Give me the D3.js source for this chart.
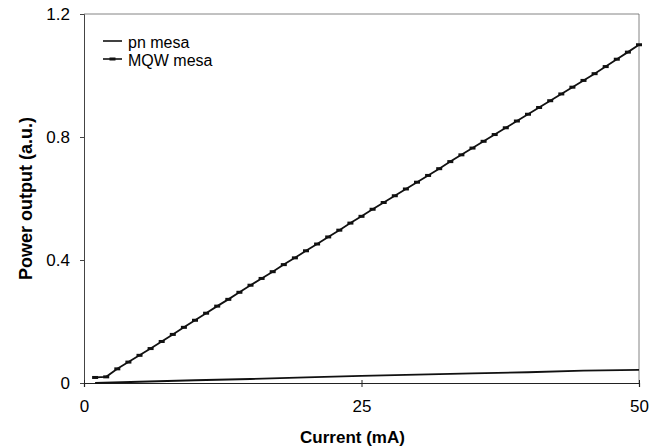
<!DOCTYPE html>
<html>
<head>
<meta charset="UTF-8">
<title>Power output vs current</title>
<script src="https://d3js.org/d3.v7.min.js"></script>
<style>
    body { margin: 0; padding: 0; background: #fff; }
    svg { display: block; font-family: "Liberation Sans", Arial, sans-serif; }
    .tick text { font-size: 17px; fill: #000; }
    .axis-title { font-weight: bold; fill: #000; }
    .legend text { font-size: 16px; fill: #000; }
</style>
</head>
<body>
<svg id="chart" width="665" height="447"></svg>
<script>
    // MQW mesa: one point per mA
    const mqwCurrent = d3.range(1, 51);
    const mqwPower = [
        0.018, 0.020, 0.046, 0.068, 0.090, 0.112, 0.135, 0.158, 0.181, 0.204,
        0.227, 0.250, 0.272, 0.295, 0.318, 0.340, 0.362, 0.385, 0.407, 0.430,
        0.452, 0.475, 0.497, 0.520, 0.542, 0.565, 0.587, 0.609, 0.631, 0.653,
        0.675, 0.697, 0.720, 0.742, 0.764, 0.786, 0.808, 0.830, 0.852, 0.874,
        0.896, 0.918, 0.940, 0.962, 0.984, 1.006, 1.029, 1.053, 1.076, 1.100
    ];
    // pn mesa
    const pnCurrent = [1, 5, 10, 15, 20, 25, 30, 35, 40, 45, 50];
    const pnPower = [0.000, 0.004, 0.009, 0.013, 0.018, 0.023, 0.027, 0.031, 0.035, 0.040, 0.043];

    const xTicks = [0, 25, 50];
    const yTicks = [0, 0.4, 0.8, 1.2];
    const seriesNames = ["pn mesa", "MQW mesa"];

    const margin = { top: 14, right: 26, bottom: 64, left: 84 };
    const width = 665 - margin.left - margin.right;
    const height = 447 - margin.top - margin.bottom;

    const svg = d3.select("#chart")
        .append("g")
        .attr("transform", `translate(${margin.left},${margin.top})`);

    const x = d3.scaleLinear().domain([0, 50]).range([0, width]);
    const y = d3.scaleLinear().domain([0, 1.2]).range([height, 0]);

    // frame (top and right)
    svg.append("path")
        .attr("d", `M0,0H${width}V${height}`)
        .attr("fill", "none")
        .attr("stroke", "#666")
        .attr("stroke-width", 0.8);

    const yAxis = svg.append("g")
        .call(d3.axisLeft(y).tickValues(yTicks).tickFormat(d => d === 0 ? "0" : d3.format(".1f")(d))
            .tickSize(4).tickPadding(10));
    yAxis.select(".domain").attr("stroke", "#444");
    yAxis.selectAll(".tick line").attr("stroke", "#444");

    const xAxis = svg.append("g")
        .attr("transform", `translate(0,${height})`)
        .call(d3.axisBottom(x).tickValues(xTicks).tickSize(4).tickPadding(13));
    xAxis.select(".domain").attr("stroke", "#222").attr("stroke-width", 1.2);
    xAxis.selectAll(".tick line").attr("y1", -3).attr("stroke", "#222");

    svg.append("text")
        .attr("class", "axis-title")
        .style("font-size", "17px")
        .attr("x", x(25) - 9)
        .attr("y", height + 60)
        .attr("text-anchor", "middle")
        .text("Current (mA)");

    svg.append("text")
        .attr("class", "axis-title")
        .style("font-size", "18px")
        .attr("transform", "rotate(-90)")
        .attr("x", -(y(0.6)))
        .attr("y", -52)
        .attr("text-anchor", "middle")
        .text("Power output (a.u.)");

    const line = d3.line().x(d => x(d[0])).y(d => y(d[1]));

    const pnData = pnCurrent.map((c, i) => [c, pnPower[i]]);
    const mqwData = mqwCurrent.map((c, i) => [c, mqwPower[i]]);

    svg.append("path")
        .datum(pnData)
        .attr("fill", "none")
        .attr("stroke", "#111")
        .attr("stroke-width", 1.8)
        .attr("d", line);

    svg.append("path")
        .datum(mqwData)
        .attr("fill", "none")
        .attr("stroke", "#111")
        .attr("stroke-width", 1.8)
        .attr("d", line);

    svg.selectAll(".mqw-marker")
        .data(mqwData)
        .enter()
        .append("rect")
        .attr("class", "mqw-marker")
        .attr("x", d => x(d[0]) - 3)
        .attr("y", d => y(d[1]) - 1.5)
        .attr("width", 6)
        .attr("height", 3)
        .attr("fill", "#111");

    // legend
    const legend = svg.append("g").attr("class", "legend");
    seriesNames.forEach((name, i) => {
        const ly = 27 + i * 18;
        legend.append("line")
            .attr("x1", 19).attr("x2", 38)
            .attr("y1", ly).attr("y2", ly)
            .attr("stroke", "#111").attr("stroke-width", 1.6);
        if (name === "MQW mesa") {
            legend.append("rect")
                .attr("x", 25.5).attr("y", ly - 1.5)
                .attr("width", 6).attr("height", 3)
                .attr("fill", "#111");
        }
        legend.append("text")
            .attr("x", 44)
            .attr("y", ly + 7)
            .text(name);
    });
</script>
</body>
</html>
